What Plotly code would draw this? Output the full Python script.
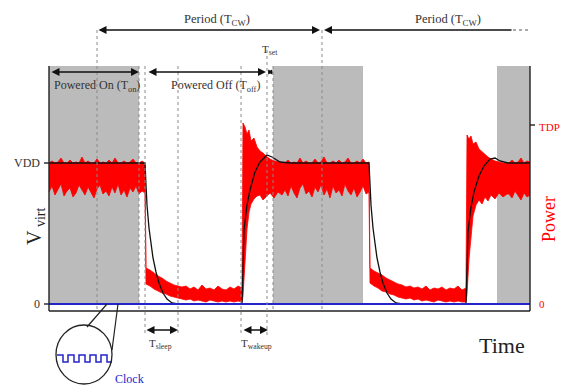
import plotly.graph_objects as go

# ---------------- data (arbitrary schematic units) ----------------
# time: 0 = left edge of the frame; one period T_CW = 224, T_on = 90
# amplitude: 0 = ground, VDD = 141, TDP = 179
VDD = 141
TDP = 179
gray_on_windows = [[0, 90], [224, 314], [448, 481]]

# power trace (red band) : time, upper envelope, lower envelope
on1_t = list(range(0, 97, 3))
on1_up = [141, 143, 141, 142, 146, 141, 141, 144, 141, 142, 141, 147, 141, 143, 141, 141, 145,
          141, 142, 141, 144, 141, 146, 141, 141, 143, 141, 142, 145, 141, 141, 143, 141]
on1_lo = [112, 118, 109, 115, 120, 108, 113, 116, 107, 111, 119, 114, 109, 117, 112, 106, 115,
          119, 110, 113, 108, 117, 111, 120, 109, 114, 107, 116, 112, 118, 110, 113, 111]

off1_t = [97, 101, 105, 109, 113, 117, 121, 125, 129, 133, 137, 141, 145, 149, 153, 157, 161,
          165, 169, 173, 177, 181, 185, 189, 193]
off1_up = [36, 34, 31, 28, 26, 23, 21, 19, 18, 17, 18, 15, 17, 14, 19, 15, 16, 14, 18, 15, 14,
           17, 15, 18, 16]
off1_lo = [20, 18, 15, 13, 11, 10, 8, 7, 6, 5, 4, 5, 3, 4, 3, 2, 4, 3, 2, 3, 2, 3, 2, 3, 2]

rise1_t = [194, 196, 198, 200, 202, 205, 208, 211, 214, 217, 221, 225, 229, 233]
rise1_up = [181, 177, 170, 174, 163, 166, 157, 153, 151, 148, 145, 143, 142, 141]
rise1_lo = [8, 40, 75, 92, 100, 105, 108, 109, 104, 107, 111, 106, 112, 109]

on2_t = list(range(236, 321, 3))
on2_up = [141, 144, 141, 142, 141, 146, 141, 143, 141, 141, 145, 141, 142, 147, 141, 141, 143,
          141, 144, 141, 142, 146, 141, 141, 143, 141, 145, 141, 142]
on2_lo = [114, 108, 118, 111, 106, 116, 120, 110, 113, 107, 117, 112, 119, 109, 115, 106, 118,
          111, 114, 108, 120, 113, 109, 116, 107, 112, 118, 110, 112]

off2_t = [321, 325, 329, 333, 337, 341, 345, 349, 353, 357, 361, 365, 369, 373, 377, 381, 385,
          389, 393, 397, 401, 405, 409, 413, 417]
off2_up = [36, 33, 31, 29, 26, 24, 22, 20, 19, 17, 18, 16, 17, 15, 18, 14, 16, 15, 17, 14, 16,
           15, 18, 14, 16]
off2_lo = [21, 18, 16, 13, 12, 10, 9, 7, 6, 5, 6, 4, 5, 3, 4, 3, 2, 4, 3, 2, 3, 2, 3, 2, 2]

rise2_t = [418, 420, 422, 424, 427, 430, 433, 436, 439, 442, 446, 450, 454, 458]
rise2_up = [169, 165, 168, 160, 162, 155, 152, 150, 147, 145, 143, 142, 141, 141]
rise2_lo = [10, 45, 70, 88, 99, 104, 100, 107, 103, 109, 105, 111, 107, 110]

on3_t = [460, 463, 466, 469, 472, 475, 478, 481]
on3_up = [141, 144, 141, 142, 146, 141, 143, 142]
on3_lo = [110, 106, 113, 108, 104, 111, 107, 109]

# virtual supply voltage V_virt (black)
vvirt_t = [0, 96, 97, 98, 100, 102, 104, 107, 110, 114, 118, 123, 129,
           193, 194, 195, 198, 201, 206, 211, 218, 223, 231, 241,
           320, 321, 322, 324, 326, 328, 331, 334, 338, 342, 347, 353,
           417, 418, 419, 422, 425, 430, 435, 441, 446, 451, 459, 481]
vvirt_v = [141, 141, 119, 99, 76, 59, 46, 32, 21, 11, 5, 1, 0,
           0, 54, 74, 99, 114, 132, 142, 149, 147, 142, 141,
           141, 119, 99, 76, 59, 46, 32, 21, 11, 5, 1, 0,
           0, 50, 72, 97, 112, 128, 138, 145, 146, 143, 141, 141]

# clock (blue) and its magnified view
clock_t = [0, 481]
clock_v = [0, 0]
clk_zoom_t = [8, 14, 19, 25, 30, 36, 41, 47, 52, 58, 63]
clk_zoom_v = [-51, -58, -51, -58, -51, -58, -51, -58, -51, -58, -58]

# ---------------- figure ----------------
RED = "#ff0000"
BLUE = "#2424c8"
GRAY = "#bbbbbb"
TXT = "#333333"
FONT = "Liberation Serif"

band_t = on1_t + off1_t + rise1_t + on2_t + off2_t + rise2_t + on3_t
band_up = on1_up + off1_up + rise1_up + on2_up + off2_up + rise2_up + on3_up
band_lo = on1_lo + off1_lo + rise1_lo + on2_lo + off2_lo + rise2_lo + on3_lo

fig = go.Figure()
fig.add_trace(go.Scatter(x=band_t, y=band_lo, mode="lines",
                         line=dict(color=RED, width=0.8), hoverinfo="skip"))
fig.add_trace(go.Scatter(x=band_t, y=band_up, mode="lines", fill="tonexty",
                         fillcolor=RED, line=dict(color=RED, width=0.8), hoverinfo="skip"))
fig.add_trace(go.Scatter(x=vvirt_t, y=vvirt_v, mode="lines",
                         line=dict(color="#111111", width=1.3), hoverinfo="skip"))
fig.add_trace(go.Scatter(x=clock_t, y=clock_v, mode="lines",
                         line=dict(color=BLUE, width=2), hoverinfo="skip"))
fig.add_trace(go.Scatter(x=clk_zoom_t, y=clk_zoom_v, mode="lines", line_shape="hv",
                         line=dict(color=BLUE, width=1.5), hoverinfo="skip"))

shapes = []
for a, b in gray_on_windows:
    shapes.append(dict(type="rect", x0=a, x1=b, y0=0, y1=238, fillcolor=GRAY,
                       line=dict(width=0), layer="below"))
# frame
frame = dict(color="#222222", width=1.4)
shapes += [
    dict(type="line", x0=0, x1=0, y0=-7, y1=238, line=frame),
    dict(type="line", x0=0, x1=481, y0=-7, y1=-7, line=frame),
    dict(type="line", x0=481, x1=481, y0=-7, y1=238, line=frame),
    dict(type="line", x0=-5, x1=0, y0=VDD, y1=VDD, line=frame),
    dict(type="line", x0=-5, x1=0, y0=0, y1=0, line=frame),
    dict(type="line", x0=481, x1=486, y0=TDP, y1=TDP, line=frame),
]
# dotted guides
dot = dict(color="#8a8a8a", width=1, dash="dot")
for x, y0, y1 in [(48, 274, -7), (90, 238, -7), (96, 238, -31), (129, 238, -31),
                  (192, 238, -31), (218, 254, -31), (224, 238, -7), (273, 274, -7)]:
    shapes.append(dict(type="line", x0=x, x1=x, y0=y0, y1=y1, line=dot))
shapes.append(dict(type="line", x0=464, x1=481, y0=274, y1=274,
                   line=dict(color="#555555", width=1.2, dash="dot")))
# magnifier
shapes += [
    dict(type="circle", x0=7, x1=63, y0=-80, y1=-21, line=dict(color="#222222", width=1.3)),
    dict(type="line", x0=38, x1=58, y0=-23, y1=0, line=dict(color="#222222", width=1.2)),
    dict(type="line", x0=63, x1=69, y0=-46, y1=0, line=dict(color="#222222", width=1.2)),
]

ann = []


def arrow(x_head, x_tail, y, side="end+start", size=1.0):
    ann.append(dict(x=x_head, y=y, ax=x_tail, ay=y, xref="x", yref="y", axref="x", ayref="y",
                    text="", showarrow=True, arrowhead=2, arrowsize=size, arrowwidth=1.6,
                    arrowcolor="#111111", arrowside=side))


def label(x, y, text, size=10.5, color=TXT, xanchor="center", angle=0):
    ann.append(dict(x=x, y=y, xref="x", yref="y", text=text, showarrow=False,
                    font=dict(family=FONT, size=size, color=color), xanchor=xanchor,
                    yanchor="middle", textangle=angle))


arrow(271, 48, 274)
arrow(275, 464, 274, side="end")
arrow(90, 1, 232)
arrow(217, 98, 232)
arrow(224, 217, 232, size=0.6)
arrow(129, 96, -26)
arrow(219, 193, -26)

label(168, 284, "Period (T<sub>CW</sub>)", 12.5)
label(399, 284, "Period (T<sub>CW</sub>)", 12.5)
label(3, 218, "Powered On (T<sub>on</sub>)", 12, xanchor="left")
label(166, 218, "Powered Off (T<sub>off</sub>)", 12)
label(221, 254, "T<sub>set</sub>", 11)
label(111, -40, "T<sub>sleep</sub>", 11)
label(207, -40, "T<sub>wakeup</sub>", 11)
label(-7, VDD, "VDD", 12, xanchor="right")
label(-7, 0, "0", 12, xanchor="right")
label(488, TDP - 2, "TDP", 11, color=RED, xanchor="left")
label(488, 0, "0", 11, color=RED, xanchor="left")
label(-14, 78, "V<sub> virt</sub>", 20, color="#222222", angle=-90)
label(500, 85, "Power", 18, color=RED, angle=-90)
label(453, -41, "Time", 22, color="#222222")
label(80, -75, "Clock", 12, color=BLUE)

fig.update_layout(
    width=563, height=385, margin=dict(l=0, r=0, t=0, b=0),
    paper_bgcolor="white", plot_bgcolor="white", showlegend=False,
    xaxis=dict(range=[-49, 514], visible=False, fixedrange=True),
    yaxis=dict(range=[-81, 304], visible=False, fixedrange=True),
    shapes=shapes, annotations=ann,
)
fig.write_html("out.html", config={"displayModeBar": False},
               post_script="document.body.style.margin='0px';"
                           "document.body.style.overflow='hidden';")
